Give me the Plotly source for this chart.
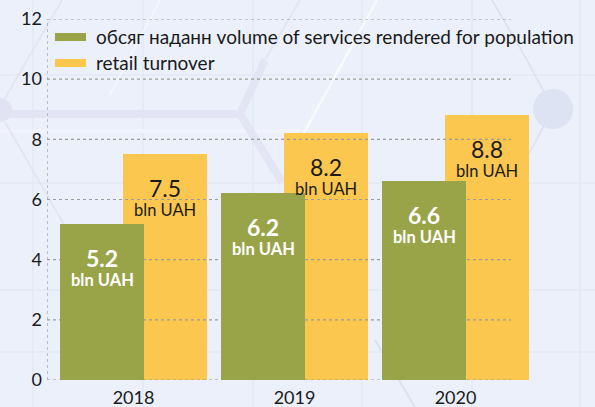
import plotly.graph_objects as go

# ---- data ----
years = ["2018", "2019", "2020"]
services = [5.2, 6.2, 6.6]        # bln UAH
retail = [7.5, 8.2, 8.8]          # bln UAH
unit_label = "bln UAH"
series_names = ["обсяг наданн volume of services rendered for population", "retail turnover"]
y_ticks = [0, 2, 4, 6, 8, 10, 12]

# ---- styling / geometry ----
GREEN = "#99A448"
YELLOW = "#FBC74F"
BG = "#EBF0FA"
TEXT = "#1A1A1A"
FONT = "Lato"

W, H = 595, 407
L, R, T, B = 47, 64, 19, 27
PW, PH = W - L - R, H - T - B
UNIT = 161.0                       # pixels per category step
X0 = -(133.5 - L) / UNIT           # left end of the x range
X1 = X0 + PW / UNIT
BAR_W = 84 / UNIT
OFF_G = -73.5 / UNIT
OFF_Y = OFF_G + 63 / UNIT
GRID_END = (511 - 133.5) / UNIT

xs = list(range(len(years)))


def px_x(p):
    return (p - L) / PW


def px_y(p):
    return (H - B - p) / PH


fig = go.Figure()

# retail turnover bars (lower layer)
fig.add_trace(go.Bar(
    x=xs, y=retail, width=BAR_W, offset=OFF_Y,
    marker=dict(color=YELLOW, line=dict(width=0)),
    name=series_names[1], showlegend=False, xaxis="x", yaxis="y",
))

# dotted horizontal grid + left axis line, drawn over the yellow bars
gx, gy = [], []
for t in y_ticks:
    gx += [X0, GRID_END, None]
    gy += [t, t, None]
gx += [X0, X0]
gy += [0, 12]
fig.add_trace(go.Scatter(
    x=gx, y=gy, mode="lines", hoverinfo="skip", showlegend=False,
    line=dict(color="#9C9C9C", width=1.2, dash="dot"), cliponaxis=False,
    xaxis="x", yaxis="y",
))

# services bars on an overlaying axis so they sit on top
fig.add_trace(go.Bar(
    x=xs, y=services, width=BAR_W, offset=OFF_G,
    marker=dict(color=GREEN, line=dict(width=0)),
    name=series_names[0], showlegend=False, xaxis="x", yaxis="y2",
))

annotations = []
for i, (s, r) in enumerate(zip(services, retail)):
    cg = i + OFF_G + BAR_W / 2
    cy = i + OFF_Y + BAR_W / 2
    for cx, v, col, bold in [(cg, s, "white", True), (cy, r, TEXT, False)]:
        val = f"<b>{v:.1f}</b>" if bold else f"{v:.1f}"
        unit = f"<b>{unit_label}</b>" if bold else unit_label
        annotations.append(dict(x=cx, y=v, xref="x", yref="y", text=val,
                                showarrow=False, yanchor="middle", yshift=-34,
                                font=dict(family=FONT, size=23, color=col)))
        annotations.append(dict(x=cx, y=v, xref="x", yref="y", text=unit,
                                showarrow=False, yanchor="middle", yshift=-56,
                                font=dict(family=FONT, size=16.5, color=col)))

# legend rows
shapes = []
for name, col, yc in [(series_names[0], GREEN, 37), (series_names[1], YELLOW, 63)]:
    shapes.append(dict(type="rect", xref="paper", yref="paper",
                       x0=px_x(55), x1=px_x(86), y0=px_y(yc - 4), y1=px_y(yc + 4),
                       fillcolor=col, line=dict(width=0), layer="above"))
    annotations.append(dict(x=px_x(94), y=px_y(yc), xref="paper", yref="paper",
                            text=name, showarrow=False, xanchor="left", yanchor="middle",
                            font=dict(family=FONT, size=19, color=TEXT)))

# soft decorative background
def deco_line(ax, ay, bx, by, color, width):
    shapes.append(dict(type="line", xref="paper", yref="paper", layer="below",
                       x0=px_x(ax), x1=px_x(bx), y0=px_y(ay), y1=px_y(by),
                       line=dict(color=color, width=width)))


grid_c = "#E3E9F6"
for vx in [33, 143, 253, 362, 472, 580]:
    deco_line(vx, 0, vx, H, grid_c, 1.5)
for hy in [75, 183, 290, 352]:
    deco_line(0, hy, W, hy, grid_c, 1.5)

deco_line(0, 131, 300, 131, "#F1F4FC", 4)
lav = "#E3E5F5"
deco_line(0, 114, 240, 114, lav, 8)
deco_line(240, 114, 265, 60, lav, 8)
deco_line(240, 114, 282, 182, lav, 8)
deco_line(62, 0, 4, 100, lav, 2)
deco_line(5, 122, 70, 235, lav, 2)
deco_line(300, 0, 265, 60, lav, 2)
deco_line(377, 0, 300, 140, "#F8FAFE", 2.5)
deco_line(160, 0, 110, 95, "#F4F6FC", 2)
deco_line(527, 60, 553, 109, "#DCE0F0", 1.5)
deco_line(492, 0, 527, 60, "#DCE0F0", 1.5)
deco_line(553, 109, 520, 170, "#DCE0F0", 1.5)
deco_line(375, 340, 415, 407, "#DCE0F0", 2)
shapes.append(dict(type="circle", xref="paper", yref="paper", layer="below",
                   x0=px_x(533), x1=px_x(573), y0=px_y(129), y1=px_y(89),
                   fillcolor="#DDE3F3", line=dict(width=0)))
shapes.append(dict(type="circle", xref="paper", yref="paper", layer="below",
                   x0=px_x(-12), x1=px_x(12), y0=px_y(122), y1=px_y(98),
                   fillcolor="#E1E3F3", line=dict(width=0)))

axis_font = dict(family=FONT, size=18, color=TEXT)
fig.update_layout(
    width=W, height=H,
    margin=dict(l=L, r=R, t=T, b=B, pad=0, autoexpand=False),
    paper_bgcolor=BG, plot_bgcolor="rgba(0,0,0,0)",
    barmode="overlay", bargap=0,
    showlegend=False,
    xaxis=dict(range=[X0, X1], tickvals=xs, ticktext=years, showgrid=False,
               zeroline=False, showline=False, ticks="", tickfont=axis_font,
               ticklabelstandoff=5, automargin=False, fixedrange=True),
    yaxis=dict(range=[0, 12], tickvals=y_ticks, showgrid=False, zeroline=False,
               showline=False, ticks="", tickfont=axis_font, ticklabelstandoff=4,
               automargin=False),
    yaxis2=dict(range=[0, 12], overlaying="y", visible=False),
    shapes=shapes,
    annotations=annotations,
    font=dict(family=FONT),
)

fig.write_html("out.html")
